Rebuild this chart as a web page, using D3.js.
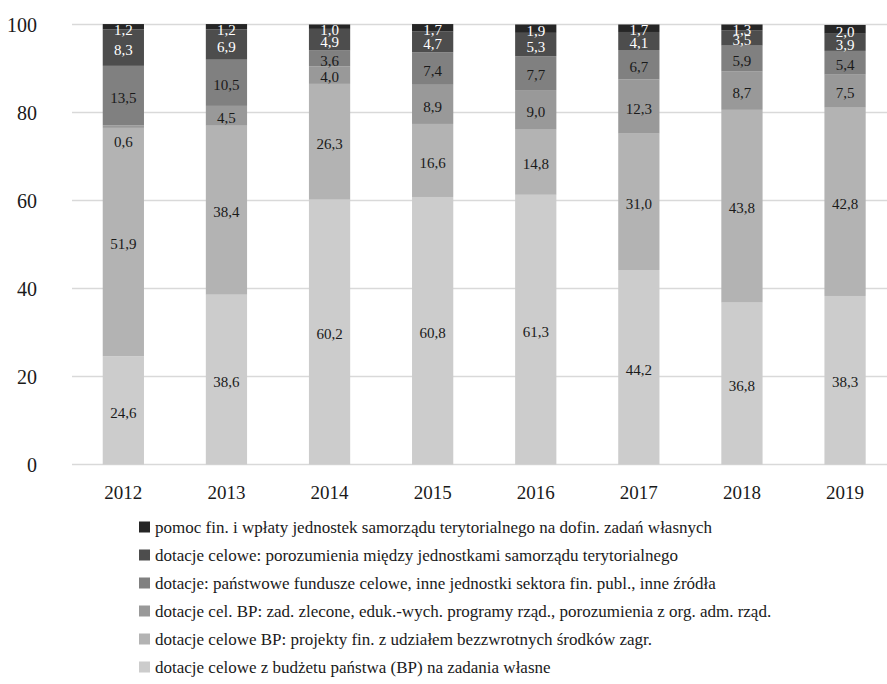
<!DOCTYPE html>
<html><head><meta charset="utf-8">
<script src="https://cdn.jsdelivr.net/npm/d3@7"></script>
<style>body{margin:0;background:#fff}svg{display:block}</style>
</head><body>
<svg id="c" width="887" height="684" style="font-family:'Liberation Serif','DejaVu Serif',serif"></svg>
<script>
const years = ["2012","2013","2014","2015","2016","2017","2018","2019"];
const seriesNames = [
  "dotacje celowe z budżetu państwa (BP) na zadania własne",
  "dotacje celowe BP: projekty fin. z udziałem bezzwrotnych środków zagr.",
  "dotacje cel. BP: zad. zlecone, eduk.-wych. programy rząd., porozumienia z org. adm. rząd.",
  "dotacje: państwowe fundusze celowe, inne jednostki sektora fin. publ., inne źródła",
  "dotacje celowe: porozumienia między jednostkami samorządu terytorialnego",
  "pomoc fin. i wpłaty jednostek samorządu terytorialnego na dofin. zadań własnych"
];
const s1 = [24.6, 38.6, 60.2, 60.8, 61.3, 44.2, 36.8, 38.3];
const s2 = [51.9, 38.4, 26.3, 16.6, 14.8, 31.0, 43.8, 42.8];
const s3 = [0.6, 4.5, 4.0, 8.9, 9.0, 12.3, 8.7, 7.5];
const s4 = [13.5, 10.5, 3.6, 7.4, 7.7, 6.7, 5.9, 5.4];
const s5 = [8.3, 6.9, 4.9, 4.7, 5.3, 4.1, 3.5, 3.9];
const s6 = [1.2, 1.2, 1.0, 1.7, 1.9, 1.7, 1.3, 2.0];
const yTicks = [0, 20, 40, 60, 80, 100];
const colors = ["#cccccc","#b3b3b3","#999999","#808080","#4d4d4d","#262626"];
const labelColors = ["#1a1a1a","#1a1a1a","#1a1a1a","#1a1a1a","#ffffff","#ffffff"];
const FONT = "'Liberation Serif','DejaVu Serif',serif";

const allSeries = [s1,s2,s3,s4,s5,s6];
const rows = years.map((y,i)=>{const o={year:y}; allSeries.forEach((s,k)=>o["k"+k]=s[i]); return o;});
const keys = allSeries.map((_,k)=>"k"+k);
const stack = d3.stack().keys(keys)(rows);

const svg = d3.select("#c");
const x = d3.scaleBand().domain(years).range([71.8, 896.6]).paddingInner(0.6).paddingOuter(0.3);
const y = d3.scaleLinear().domain([0,100]).range([464.5, 24.5]);

svg.append("g").selectAll("line").data(yTicks).join("line")
  .attr("x1",72).attr("x2",887)
  .attr("y1",d=>y(d)).attr("y2",d=>y(d))
  .attr("stroke","#d9d9d9").attr("stroke-width",1.5);

svg.append("g").selectAll("text").data(yTicks).join("text")
  .attr("x",37).attr("y",d=>y(d)).attr("dy","0.35em")
  .attr("text-anchor","end").attr("font-size",20).attr("font-family",FONT).attr("fill","#1a1a1a")
  .text(d=>d);

svg.append("g").selectAll("text").data(years).join("text")
  .attr("x",d=>x(d)+x.bandwidth()/2).attr("y",492).attr("dy","0.35em")
  .attr("text-anchor","middle").attr("font-size",19).attr("font-family",FONT).attr("fill","#1a1a1a")
  .text(d=>d);

const g = svg.append("g");
stack.forEach((layer,k)=>{
  g.append("g").attr("fill",colors[k]).selectAll("rect").data(layer).join("rect")
    .attr("x",d=>x(d.data.year)).attr("width",x.bandwidth())
    .attr("y",d=>y(d[1])).attr("height",d=>y(d[0])-y(d[1]));
});
stack.forEach((layer,k)=>{
  g.append("g").selectAll("text").data(layer).join("text")
    .attr("x",d=>x(d.data.year)+x.bandwidth()/2)
    .attr("y",d=>{
      const v = d[1]-d[0];
      if (v < 1) return y(d[0]) + 14;   // tiny segment: label placed just below it
      return Math.max(y((d[0]+d[1])/2)+2, 30);
    })
    .attr("dy","0.35em").attr("text-anchor","middle")
    .attr("font-size",15).attr("font-family",FONT).attr("fill",labelColors[k])
    .text(d=>d3.format(".1f")(d[1]-d[0]).replace(".",","));
});

const leg = svg.append("g");
const legOrder = d3.range(seriesNames.length).reverse();
legOrder.forEach((k,i)=>{
  const cy = 527 + i*28;
  leg.append("rect").attr("x",139).attr("y",cy-5.5).attr("width",11).attr("height",11).attr("fill",colors[k]);
  leg.append("text").attr("x",155).attr("y",cy).attr("dy","0.35em")
    .attr("font-size",17).attr("font-family",FONT).attr("fill","#1a1a1a").text(seriesNames[k]);
});
</script>
</body></html>
